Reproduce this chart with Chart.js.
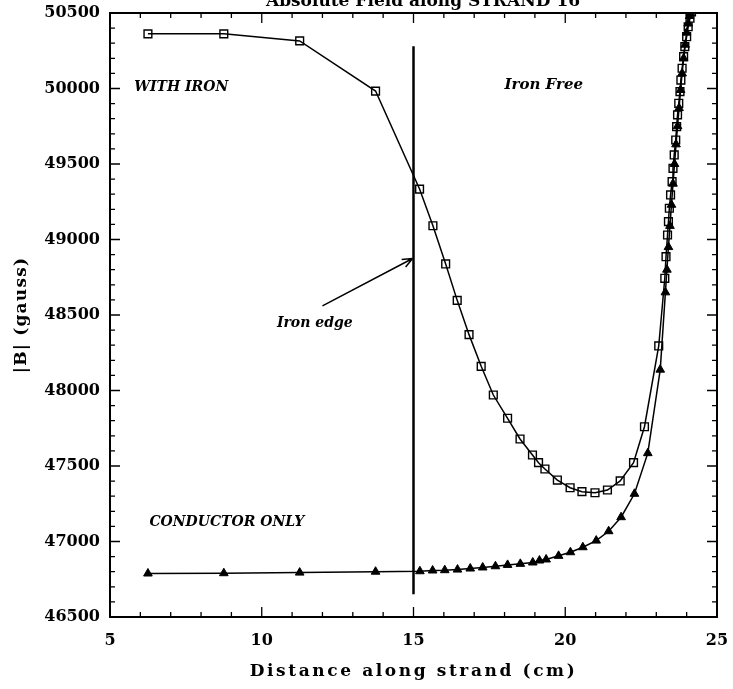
<!DOCTYPE html>
<html>
<head>
<meta charset="utf-8">
<script src="https://cdn.jsdelivr.net/npm/chart.js@4.4.1/dist/chart.umd.min.js"></script>
<style>
	html, body { margin: 0; padding: 0; background: #fff; }
	#wrap { width: 733px; height: 689px; }
</style>
</head>
<body>
<div id="wrap"><canvas id="myChart" width="733" height="689"></canvas></div>
<script>
// tick labels
const xTickValues = [5, 10, 15, 20, 25];
const yTickValues = [46500, 47000, 47500, 48000, 48500, 49000, 49500, 50000, 50500];

// WITH IRON (open squares)
const withIronX = [6.25, 8.75, 11.25, 13.75, 15.2, 15.64, 16.06, 16.44, 16.83, 17.23, 17.63,
	18.1, 18.51, 18.92, 19.12, 19.33, 19.74, 20.16, 20.55, 20.98, 21.39, 21.81, 22.25, 22.61, 23.08,
	23.28, 23.32, 23.37, 23.4, 23.43, 23.47, 23.52, 23.55, 23.59, 23.64, 23.67, 23.7, 23.74,
	23.78, 23.81, 23.85, 23.9, 23.94, 24.0, 24.05, 24.11, 24.16];
const withIronB = [50362, 50362, 50315, 49983, 49334, 49091, 48838, 48597, 48370, 48160, 47970,
	47816, 47679, 47573, 47522, 47480, 47407, 47356, 47330, 47323, 47341, 47401, 47522, 47760, 48295,
	48743, 48886, 49030, 49118, 49207, 49295, 49383, 49471, 49560, 49659, 49747, 49825, 49902,
	49979, 50056, 50134, 50211, 50277, 50343, 50409, 50465, 50508];

// CONDUCTOR ONLY (filled triangles)
const condOnlyX = [6.25, 8.75, 11.25, 13.75, 15.21, 15.63, 16.03, 16.45, 16.87, 17.28, 17.7,
	18.1, 18.52, 18.93, 19.15, 19.37, 19.78, 20.17, 20.58, 21.02, 21.43, 21.84, 22.28, 22.72, 23.13,
	23.3, 23.35, 23.4, 23.45, 23.5, 23.55, 23.6, 23.65, 23.7, 23.75, 23.8, 23.85, 23.9, 23.95,
	24.0, 24.05, 24.1, 24.15];
const condOnlyB = [46788, 46790, 46794, 46800, 46803, 46808, 46810, 46814, 46821, 46828, 46836,
	46845, 46852, 46861, 46874, 46881, 46905, 46929, 46962, 47006, 47068, 47161, 47316, 47585, 48138,
	48650, 48800, 48950, 49090, 49230, 49370, 49500, 49630, 49750, 49870, 49990, 50100, 50200, 50290,
	50370, 50430, 50480, 50530];

// iron edge marker line
const edgeX = [15, 15];
const edgeB = [46650, 50280];

const toPoints = (xs, ys) => xs.map((x, i) => ({ x: x, y: ys[i] }));

const serif = "'DejaVu Serif', serif";

// inward ticks on all four sides, frame, titles and text annotations
const framePlugin = {
	id: "frame",
	afterDatasetsDraw(chart) {
		const { ctx, chartArea: a, scales } = chart;
		const xs = scales.x, ys = scales.y;
		ctx.save();
		ctx.strokeStyle = "#000";
		ctx.lineWidth = 2;
		ctx.strokeRect(a.left, a.top, a.right - a.left, a.bottom - a.top);
		ctx.lineWidth = 1.3;
		ctx.beginPath();
		for (let v = xs.min; v <= xs.max + 1e-9; v += 1) {
			const px = xs.getPixelForValue(v);
			const len = v % 5 === 0 ? 10 : 5;
			ctx.moveTo(px, a.bottom); ctx.lineTo(px, a.bottom - len);
			ctx.moveTo(px, a.top); ctx.lineTo(px, a.top + len);
		}
		for (let v = ys.min; v <= ys.max + 1e-9; v += 100) {
			const py = ys.getPixelForValue(v);
			const len = v % 500 === 0 ? 10 : 5;
			ctx.moveTo(a.left, py); ctx.lineTo(a.left + len, py);
			ctx.moveTo(a.right, py); ctx.lineTo(a.right - len, py);
		}
		ctx.stroke();

		// arrow to the iron edge
		const x0 = xs.getPixelForValue(12.0), y0 = ys.getPixelForValue(48560);
		const x1 = xs.getPixelForValue(14.97), y1 = ys.getPixelForValue(48874);
		ctx.lineWidth = 1.5;
		ctx.beginPath();
		ctx.moveTo(x0, y0); ctx.lineTo(x1, y1);
		const ang = Math.atan2(y1 - y0, x1 - x0);
		ctx.moveTo(x1, y1); ctx.lineTo(x1 - 11 * Math.cos(ang - 0.4), y1 - 11 * Math.sin(ang - 0.4));
		ctx.moveTo(x1, y1); ctx.lineTo(x1 - 11 * Math.cos(ang + 0.4), y1 - 11 * Math.sin(ang + 0.4));
		ctx.stroke();

		// labels
		ctx.fillStyle = "#000";
		ctx.font = "italic bold 14px " + serif;
		ctx.textBaseline = "middle";
		ctx.textAlign = "left";
		ctx.fillText("WITH IRON", xs.getPixelForValue(5.8), ys.getPixelForValue(50010));
		ctx.fillText("Iron edge", xs.getPixelForValue(10.5), ys.getPixelForValue(48445));
		ctx.fillText("CONDUCTOR ONLY", xs.getPixelForValue(6.3), ys.getPixelForValue(47126));
		ctx.font = "italic bold 15px " + serif;
		ctx.fillText("Iron Free", xs.getPixelForValue(18.0), ys.getPixelForValue(50020));

		// title, mostly cut off at the top edge
		ctx.font = "bold 17px " + serif;
		ctx.textAlign = "center";
		ctx.textBaseline = "alphabetic";
		ctx.fillText("Absolute Field along STRAND 16", 423, 6);

		// axis titles, widely spaced as in the original
		ctx.letterSpacing = "2.6px";
		ctx.font = "bold 17px " + serif;
		ctx.textBaseline = "middle";
		ctx.fillText("Distance along strand (cm)", (a.left + a.right) / 2, 672);
		ctx.letterSpacing = "1.2px";
		ctx.translate(22, (a.top + a.bottom) / 2);
		ctx.rotate(-Math.PI / 2);
		ctx.fillText("|B| (gauss)", 0, 0);
		ctx.restore();
	},
};

const ctx = document.getElementById("myChart");

new Chart(ctx, {
	type: "scatter",
	data: {
		datasets: [
			{
				label: "With iron",
				data: toPoints(withIronX, withIronB),
				showLine: true,
				borderColor: "#000",
				borderWidth: 1.5,
				pointStyle: "rect",
				pointRadius: 5.5,
				pointBorderWidth: 1.4,
				pointBackgroundColor: "rgba(255,255,255,0)",
				pointBorderColor: "#000",
			},
			{
				label: "Conductor only",
				data: toPoints(condOnlyX, condOnlyB),
				showLine: true,
				borderColor: "#000",
				borderWidth: 1.5,
				pointStyle: "triangle",
				pointRadius: 5,
				pointBorderWidth: 1,
				pointBackgroundColor: "#000",
				pointBorderColor: "#000",
			},
			{
				label: "Iron edge",
				data: toPoints(edgeX, edgeB),
				showLine: true,
				borderColor: "#000",
				borderWidth: 2.5,
				pointRadius: 0,
			},
		],
	},
	options: {
		responsive: false,
		animation: false,
		layout: { padding: { top: 13, right: 16, left: 0, bottom: 0 } },
		plugins: {
			legend: { display: false },
			tooltip: { enabled: false },
		},
		scales: {
			x: {
				type: "linear",
				min: 5,
				max: 25,
				afterBuildTicks: (s) => { s.ticks = xTickValues.map((v) => ({ value: v })); },
				afterFit: (s) => { s.height = 72; s.paddingLeft = 0; s.paddingRight = 0; },
				grid: { drawOnChartArea: false, drawTicks: false },
				border: { display: false },
				ticks: { padding: 14, color: "#000", font: { family: serif, weight: "bold", size: 16 } },
			},
			y: {
				type: "linear",
				min: 46500,
				max: 50500,
				afterBuildTicks: (s) => { s.ticks = yTickValues.map((v) => ({ value: v })); },
				afterFit: (s) => { s.width = 110; s.paddingTop = 0; s.paddingBottom = 0; },
				grid: { drawOnChartArea: false, drawTicks: false },
				border: { display: false },
				ticks: {
					padding: 10,
					color: "#000",
					font: { family: serif, weight: "bold", size: 16 },
					callback: (v) => String(v),
				},
			},
		},
	},
	plugins: [framePlugin],
});
</script>
</body>
</html>
